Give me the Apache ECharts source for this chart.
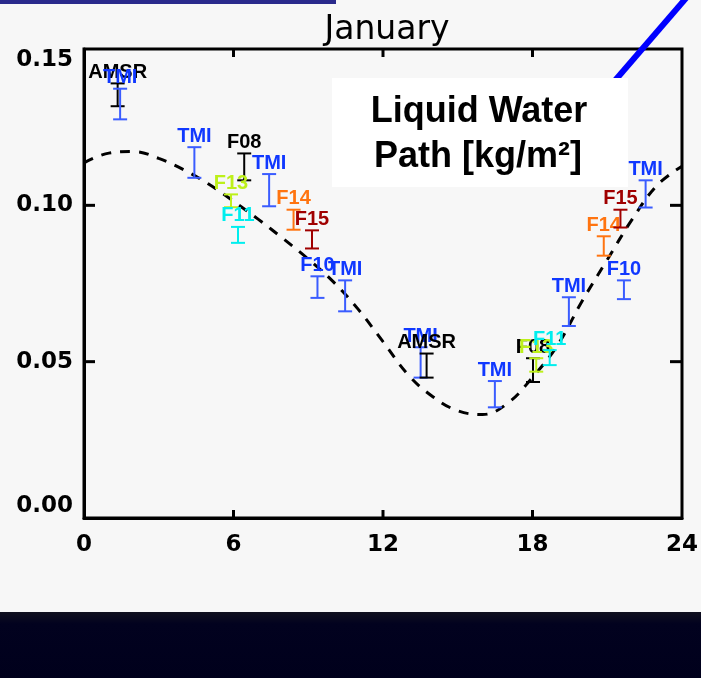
<!DOCTYPE html>
<html>
<head>
<meta charset="utf-8">
<script src="https://cdn.jsdelivr.net/npm/echarts@6/dist/echarts.min.js"></script>
<style>
html,body{margin:0;padding:0;background:#f7f7f7;}
#chart{width:701px;height:678px;}
</style>
</head>
<body>
<div id="chart"></div>
<script>
// ---- data ----
const titleText = 'January';
const xTicks = [0, 6, 12, 18, 24];
const yTicks = [0.00, 0.05, 0.10, 0.15];
// diurnal fit curve (dashed), read at each hour
const curveHours = [0,1,2,3,4,5,6,7,8,9,10,11,12,13,14,15,16,17,18,19,20,21,22,23,24];
const curveValues = [0.1136,0.1167,0.1172,0.1150,0.1114,0.1068,0.1013,0.0955,0.0893,0.0828,0.0756,0.0668,0.0564,0.0459,0.0388,0.0343,0.0331,0.0367,0.0450,0.0552,0.0695,0.0826,0.0955,0.1064,0.1125];
// satellite observations (error bars)
const obsLabels = ['AMSR','TMI','TMI','F08','F13','F11','TMI','F14','F15','F10','TMI','TMI','AMSR','TMI','F08','F13','F11','TMI','F14','F10','F15','TMI'];
const obsHours  = [1.35,1.45,4.43,6.43,5.90,6.18,7.43,8.41,9.15,9.37,10.48,13.51,13.75,16.49,18.02,18.15,18.69,19.46,20.86,21.67,21.53,22.54];
const obsLow    = [0.1317,0.1275,0.1088,0.1080,0.0994,0.0880,0.0997,0.0922,0.0862,0.0704,0.0661,0.0449,0.0449,0.0354,0.0435,0.0468,0.0489,0.0614,0.0839,0.0700,0.0929,0.0993];
const obsHigh   = [0.1390,0.1373,0.1186,0.1166,0.1035,0.0931,0.1100,0.0986,0.0920,0.0773,0.0760,0.0546,0.0526,0.0438,0.0511,0.0511,0.0537,0.0706,0.0901,0.0760,0.0986,0.1080];
const boxLine1 = 'Liquid Water';
const boxLine2 = 'Path [kg/m²]';

// ---- styles ----
const sensorColors = {
  TMI: {text:'#1038ff', bar:'#3a5cff'},
  F10: {text:'#1038ff', bar:'#3a5cff'},
  AMSR:{text:'#000000', bar:'#000000'},
  F08: {text:'#000000', bar:'#000000'},
  F13: {text:'#bdf01a', bar:'#bdf01a'},
  F11: {text:'#00eeee', bar:'#00eeee'},
  F14: {text:'#ff7410', bar:'#ff7410'},
  F15: {text:'#a00000', bar:'#a00000'}
};

const chart = echarts.init(document.getElementById('chart'), null, {renderer:'canvas'});

const curveData = curveHours.map((h,i)=>[h, curveValues[i]]);
const obsData = obsHours.map((h,i)=>[h, obsLow[i], obsHigh[i], i]);
const yMin = yTicks[0], yMax = yTicks[yTicks.length-1];
const xMin = xTicks[0], xMax = xTicks[xTicks.length-1];
const xTickData = xTicks.slice(1,-1).map(v=>[v, yMin]);
const yTickData = yTicks.slice(1,-1).map(v=>[xMin, v]);

const GL = 84, GT = 49, GW = 599, GH = 469;
const axisFont = {fontFamily:'DejaVu Sans', fontSize:23, fontWeight:'bold', color:'#000'};

chart.setOption({
  backgroundColor:'#f7f7f7',
  animation:false,
  title:{
    text:titleText, left:382, top:9, textAlign:'center',
    textStyle:{fontFamily:'DejaVu Sans', fontSize:33, fontWeight:'normal', color:'#000'}
  },
  grid:{left:GL, top:GT, width:GW, height:GH, show:true, borderColor:'#000', borderWidth:3, backgroundColor:'transparent'},
  xAxis:{type:'value', min:xMin, max:xMax, interval:6,
     axisLine:{show:true, lineStyle:{color:'#000', width:3}},
     axisTick:{show:false},
     axisLabel:Object.assign({margin:16, formatter:v=>xTicks.includes(v)?String(v):''}, axisFont),
     splitLine:{show:false}},
  yAxis:{type:'value', min:yMin, max:yMax, interval:0.05,
     axisLine:{show:true, lineStyle:{color:'#000', width:3}},
     axisTick:{show:false},
     axisLabel:Object.assign({margin:11, verticalAlignMinLabel:'bottom', verticalAlignMaxLabel:'top',
       formatter:v=>{const t=yTicks.find(y=>Math.abs(y-v)<1e-9); return t===undefined?'':t.toFixed(2);}}, axisFont),
     splitLine:{show:false}},
  graphic:[
    {type:'rect', z:-10, shape:{x:0, y:0, width:336, height:4}, style:{fill:'#2a2a8c'}},
    {type:'rect', z:-10, shape:{x:0, y:612, width:701, height:66},
     style:{fill:new echarts.graphic.LinearGradient(0,0,0,1,[{offset:0,color:'#10101f'},{offset:0.18,color:'#02021f'},{offset:1,color:'#00001c'}])}},
    {type:'line', z:100, shape:{x1:687, y1:-3, x2:612, y2:84}, style:{stroke:'#0000ff', lineWidth:6}},
    {type:'rect', z:101, shape:{x:332, y:78, width:296, height:109}, style:{fill:'#ffffff'}},
    {type:'text', z:102, style:{text:boxLine1, x:479, y:112, textAlign:'center', textVerticalAlign:'middle',
      font:'bold 36px "Liberation Sans", Arial, sans-serif', fill:'#000'}},
    {type:'text', z:102, style:{text:boxLine2, x:478, y:157, textAlign:'center', textVerticalAlign:'middle',
      font:'bold 36px "Liberation Sans", Arial, sans-serif', fill:'#000'}}
  ],
  series:[
    {type:'line', data:curveData, smooth:0.4, symbol:'none',
     lineStyle:{color:'#000', width:3, type:[10,9]}, z:2},
    // x-axis tick marks (bottom and top, pointing inward)
    {type:'custom', z:4, clip:false, data:xTickData, silent:true,
     renderItem:function(params, api){
       const pb = api.coord([api.value(0), yMin]);
       const pt = api.coord([api.value(0), yMax]);
       return {type:'group', children:[
         {type:'line', shape:{x1:pb[0], y1:pb[1], x2:pb[0], y2:pb[1]-8}, style:{stroke:'#000', lineWidth:3}},
         {type:'line', shape:{x1:pt[0], y1:pt[1], x2:pt[0], y2:pt[1]+8}, style:{stroke:'#000', lineWidth:3}}
       ]};
     }},
    // y-axis tick marks (left and right, pointing inward)
    {type:'custom', z:4, clip:false, data:yTickData, silent:true,
     renderItem:function(params, api){
       const pl = api.coord([xMin, api.value(1)]);
       const pr = api.coord([xMax, api.value(1)]);
       return {type:'group', children:[
         {type:'line', shape:{x1:pl[0], y1:pl[1], x2:pl[0]+11, y2:pl[1]}, style:{stroke:'#000', lineWidth:3}},
         {type:'line', shape:{x1:pr[0], y1:pr[1], x2:pr[0]-12, y2:pr[1]}, style:{stroke:'#000', lineWidth:3}}
       ]};
     }},
    {type:'custom', z:3, clip:false, data:obsData,
     renderItem:function(params, api){
       const x = api.value(0), lo = api.value(1), hi = api.value(2), idx = api.value(3);
       const pLo = api.coord([x, lo]), pHi = api.coord([x, hi]);
       const name = obsLabels[idx];
       const c = sensorColors[name];
       const cw = 7;
       return {type:'group', children:[
         {type:'line', shape:{x1:pLo[0], y1:pLo[1], x2:pHi[0], y2:pHi[1]}, style:{stroke:c.bar, lineWidth:2}},
         {type:'line', shape:{x1:pLo[0]-cw, y1:pLo[1], x2:pLo[0]+cw, y2:pLo[1]}, style:{stroke:c.bar, lineWidth:2}},
         {type:'line', shape:{x1:pHi[0]-cw, y1:pHi[1], x2:pHi[0]+cw, y2:pHi[1]}, style:{stroke:c.bar, lineWidth:2}},
         {type:'text', style:{text:name, x:pHi[0], y:pHi[1]-1, textAlign:'center', textVerticalAlign:'bottom',
           font:'bold 20px "Liberation Sans", Arial, sans-serif', fill:c.text}}
       ]};
     }}
  ]
});
</script>
</body>
</html>
